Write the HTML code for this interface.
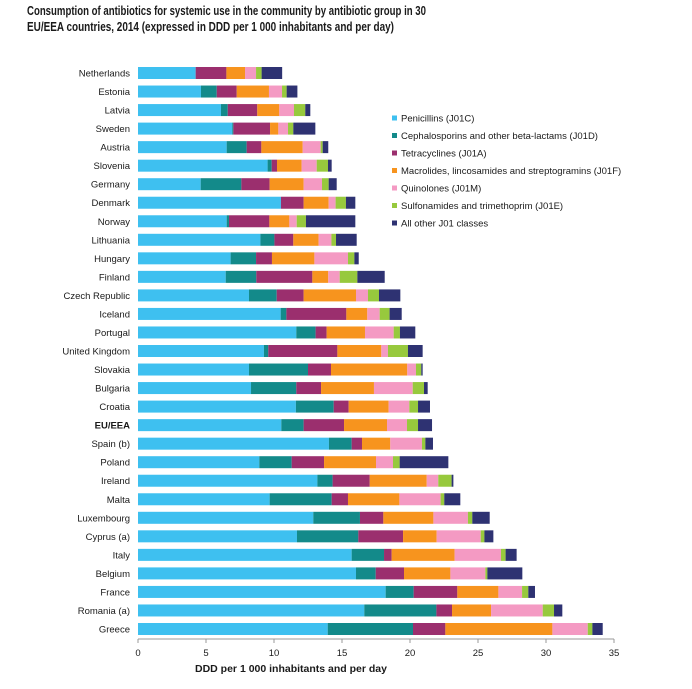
<!DOCTYPE html>
<html><head><meta charset="utf-8"><style>
body{margin:0;background:#fff}
svg{display:block;font-family:"Liberation Sans","DejaVu Sans",sans-serif}
</style></head><body>
<svg id="chart" width="692" height="689" viewBox="0 0 692 689" xmlns="http://www.w3.org/2000/svg">
<text x="27" y="15" font-size="13" font-weight="bold" fill="#1a1a1a" textLength="399" lengthAdjust="spacingAndGlyphs">Consumption of antibiotics for systemic use in the community by antibiotic group in 30</text>
<text x="27" y="31" font-size="13" font-weight="bold" fill="#1a1a1a" textLength="367" lengthAdjust="spacingAndGlyphs">EU/EEA countries, 2014 (expressed in DDD per 1 000 inhabitants and per day)</text>
<g id="bars"></g>
<g id="axis"></g>
<g id="legend"></g>
<text x="291" y="672" font-size="10.5" font-weight="bold" text-anchor="middle" fill="#1a1a1a">DDD per 1 000 inhabitants and per day</text>
</svg>
<script>
const countries=["Netherlands","Estonia","Latvia","Sweden","Austria","Slovenia","Germany","Denmark","Norway","Lithuania","Hungary","Finland","Czech Republic","Iceland","Portugal","United Kingdom","Slovakia","Bulgaria","Croatia","EU/EEA","Spain (b)","Poland","Ireland","Malta","Luxembourg","Cyprus (a)","Italy","Belgium","France","Romania (a)","Greece"];
const penicillins=[4.24,4.63,6.10,6.93,6.52,9.53,4.61,10.51,6.52,9.00,6.81,6.45,8.16,10.49,11.64,9.26,8.16,8.31,11.61,10.54,14.04,8.92,13.19,9.68,12.89,11.69,15.71,16.03,18.21,16.64,13.95];
const cephalosporins=[0,1.16,0.50,0.08,1.47,0.30,2.99,0,0.17,1.03,1.87,2.25,2.04,0.42,1.42,0.32,4.34,3.33,2.78,1.64,1.67,2.38,1.12,4.56,3.43,4.51,2.38,1.45,2.06,5.30,6.27];
const tetracyclines=[2.26,1.47,2.17,2.70,1.08,0.39,2.08,1.67,2.97,1.39,1.17,4.12,1.98,4.41,0.81,5.08,1.69,1.82,1.10,2.97,0.76,2.38,2.73,1.20,1.72,3.29,0.56,2.08,3.21,1.15,2.38];
const macrolides=[1.37,2.37,1.62,0.61,3.04,1.81,2.50,1.84,1.47,1.86,3.12,1.17,3.85,1.54,2.82,3.23,5.61,3.89,2.94,3.16,2.08,3.82,4.19,3.78,3.68,2.47,4.63,3.41,3.02,2.87,7.87];
const quinolones=[0.81,0.96,1.08,0.71,1.32,1.11,1.35,0.51,0.54,0.94,2.47,0.84,0.88,0.91,2.11,0.49,0.64,2.85,1.52,1.47,2.33,1.25,0.85,3.03,2.54,3.24,3.41,2.57,1.74,3.80,2.60];
const sulfonamides=[0.41,0.34,0.83,0.39,0.15,0.83,0.49,0.76,0.68,0.34,0.47,1.30,0.81,0.73,0.46,1.47,0.39,0.83,0.64,0.81,0.25,0.49,0.98,0.27,0.32,0.27,0.34,0.15,0.46,0.83,0.34];
const otherJ01=[1.51,0.79,0.37,1.62,0.41,0.27,0.59,0.69,3.63,1.52,0.32,2.01,1.57,0.89,1.13,1.08,0.10,0.27,0.88,1.03,0.56,3.58,0.13,1.18,1.28,0.66,0.81,2.57,0.49,0.61,0.76];
const seriesNames=["Penicillins (J01C)","Cephalosporins and other beta-lactams (J01D)","Tetracyclines (J01A)","Macrolides, lincosamides and streptogramins (J01F)","Quinolones (J01M)","Sulfonamides and trimethoprim (J01E)","All other J01 classes"];
const xTicks=[0,5,10,15,20,25,30,35];

const NS="http://www.w3.org/2000/svg";
const colors=["#3ec0f0","#138a8a","#9b2f6e","#f7941e","#f49ac3","#97c93d","#2e3272"];
const series=[penicillins,cephalosporins,tetracyclines,macrolides,quinolones,sulfonamides,otherJ01];
const x0=138,x1=614,xMax=35;
const xs=v=>x0+v/xMax*(x1-x0);
const yTop=73,yBot=629;
const ys=i=>yTop+i*(yBot-yTop)/(countries.length-1);
function mk(t,a,p){const e=document.createElementNS(NS,t);for(const k in a)e.setAttribute(k,a[k]);p.appendChild(e);return e;}
const bars=document.getElementById('bars');
countries.forEach((c,i)=>{
  const y=ys(i);
  const lbl=mk('text',{x:130,y:y+3.5,'font-size':'9.5','text-anchor':'end',fill:'#1a1a1a'},bars);
  
  
  if(c==="EU/EEA")lbl.setAttribute('font-weight','bold');
  lbl.textContent=c;
  let cum=0;
  series.forEach((s,k)=>{
    const v=s[i];
    const r=mk('rect',{x:xs(cum),y:y-6,width:Math.max(0,xs(cum+v)-xs(cum)),height:12,fill:colors[k]},bars);
    
    
    cum+=v;
  });
});
const axis=document.getElementById('axis');
const al=mk('line',{x1:x0,x2:x1,y1:639,y2:639,stroke:'#999','stroke-width':1},axis);


xTicks.forEach(t=>{
  const tk=mk('line',{x1:xs(t),x2:xs(t),y1:639,y2:643,stroke:'#999'},axis);
  
  
  const tl=mk('text',{x:xs(t),y:656,'font-size':'9.5','text-anchor':'middle',fill:'#1a1a1a'},axis);
  
  
  tl.textContent=t;
});
const legend=document.getElementById('legend');
seriesNames.forEach((n,k)=>{
  const y=118+k*17.5;
  const sq=mk('rect',{x:392,y:y-2.5,width:5,height:5,fill:colors[k]},legend);
  
  
  const tx=mk('text',{x:401,y:y+3.5,'font-size':'9.5',fill:'#1a1a1a'},legend);
  
  
  tx.textContent=n;
});
</script>
</body></html>
